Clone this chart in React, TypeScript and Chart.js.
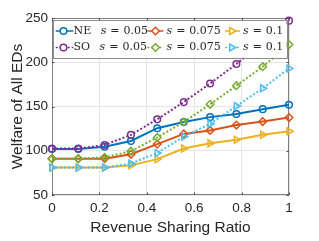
import React, { useEffect, useRef } from 'react';
import { Chart, registerables } from 'chart.js';
import { drawPoint } from 'chart.js/helpers';

Chart.register(...registerables);

// ---- data ----
const ratios = [0, 0.111, 0.222, 0.333, 0.444, 0.556, 0.667, 0.778, 0.889, 1];
const neS005 = [102, 102, 104.5, 111, 125.5, 132.5, 138, 141.5, 147, 152];
const neS0075 = [91, 91, 91, 96, 107.5, 119, 123, 129, 133, 137.5];
const neS01 = [81, 81, 81, 83.5, 90.5, 102.5, 108.5, 112.5, 118, 122];
const soS005 = [102.5, 102.5, 106.5, 118, 135.5, 155, 176, 198, 222, 247];
const soS0075 = [91, 91, 92.5, 99.5, 115, 132.5, 152.5, 173.5, 195, 220];
const soS01 = [81, 81, 81, 85.5, 97.5, 116, 130.5, 150.5, 170.5, 193];

const xTicks = [0, 0.2, 0.4, 0.6, 0.8, 1];
const yTicks = [50, 100, 150, 200, 250];

const legendPrefixes = ['NE', '', '', 'SO', '', ''];
const legendValues = ['0.05', '0.075', '0.1', '0.05', '0.075', '0.1'];
const xTitle = 'Revenue Sharing Ratio';
const yTitle = 'Welfare of All EDs';

// ---- styles ----
const colors = ['#0072BD', '#D95319', '#EDB120', '#7E2F8E', '#77AC30', '#4DBEEE'];
const markers = ['circle', 'rectRot', 'triangle', 'circle', 'rectRot', 'triangle'];
const axisGray = '#262626';

const seriesList = [neS005, neS0075, neS01, soS005, soS0075, soS01];

function markerOpts(i: number) {
  const style = markers[i];
  return {
    pointStyle: style,
    radius: style === 'triangle' ? 4 : style === 'rectRot' ? 3.8 : 3.3,
    rotation: style === 'triangle' ? 90 : 0,
    borderWidth: 1.5,
  };
}

const frameTicksPlugin = {
  id: 'frameTicks',
  beforeDatasetsDraw(chart: any) {
    const { ctx, chartArea: a } = chart;
    const xs = chart.scales.x;
    const ys = chart.scales.y;
    ctx.save();
    ctx.strokeStyle = '#808080';
    ctx.lineWidth = 1;
    ctx.setLineDash([]);
    ctx.strokeRect(Math.round(a.left) + 0.5, Math.round(a.top) + 0.5,
      Math.round(a.right - a.left) - 1, Math.round(a.bottom - a.top) - 1);
    ctx.strokeStyle = '#4a4a4a';
    const len = 2.5;
    ctx.beginPath();
    xTicks.forEach((v) => {
      const px = Math.round(xs.getPixelForValue(v)) + 0.5;
      ctx.moveTo(px, a.bottom); ctx.lineTo(px, a.bottom - len);
      ctx.moveTo(px, a.top); ctx.lineTo(px, a.top + len);
    });
    yTicks.forEach((v) => {
      const py = Math.round(ys.getPixelForValue(v)) + 0.5;
      ctx.moveTo(a.left, py); ctx.lineTo(a.left + len, py);
      ctx.moveTo(a.right, py); ctx.lineTo(a.right - len, py);
    });
    ctx.stroke();
    ctx.restore();
  },
};

const legendPlugin = {
  id: 'matlabLegend',
  afterDatasetsDraw(chart: any) {
    const { ctx, chartArea: a } = chart;
    const L = a.left;
    const T = a.top;
    const box = { x: L + 1, y: T + 2, w: 233.5, h: 37.5 };
    const rowY = [T + 13, T + 29.5];
    const lineStart = [3.7, 95.3, 173];
    const lineEnd = [21.3, 111.5, 188];
    const markX = [11.5, 103.5, 179.7];
    const textX = [21.5, 114.5, 191];
    ctx.save();
    ctx.fillStyle = '#ffffff';
    ctx.fillRect(box.x, box.y, box.w, box.h);
    ctx.strokeStyle = '#8c8c8c';
    ctx.lineWidth = 1;
    ctx.setLineDash([]);
    ctx.strokeRect(Math.round(box.x) + 0.5, Math.round(box.y) + 0.5, Math.round(box.w), Math.round(box.h));

    const roman = '11px "DejaVu Serif"';
    const italic = 'italic 11px "DejaVu Serif"';
    chart.data.datasets.forEach((ds: any, i: number) => {
      const row = Math.floor(i / 3);
      const col = i % 3;
      const y = rowY[row];
      ctx.strokeStyle = ds.borderColor;
      ctx.lineWidth = 1.5;
      ctx.setLineDash(ds.borderDash || []);
      ctx.beginPath();
      ctx.moveTo(L + lineStart[col], y);
      ctx.lineTo(L + lineEnd[col], y);
      ctx.stroke();
      ctx.setLineDash([]);
      ctx.fillStyle = '#ffffff';
      ctx.strokeStyle = ds.borderColor;
      ctx.lineWidth = 1.5;
      drawPoint(ctx, markerOpts(i) as any, L + markX[col], y);

      ctx.fillStyle = axisGray;
      ctx.textBaseline = 'middle';
      ctx.textAlign = 'left';
      let x = L + textX[col];
      const pre = legendPrefixes[i];
      if (pre) {
        ctx.font = roman;
        ctx.fillText(pre, x, y);
        x += ctx.measureText(pre).width + 9.5;
      }
      ctx.font = italic;
      ctx.fillText('s', x, y);
      x += ctx.measureText('s').width + 4;
      ctx.font = roman;
      ctx.fillText('=', x, y);
      x += ctx.measureText('=').width + 4;
      ctx.fillText(legendValues[i], x, y);
    });
    ctx.restore();
  },
};

export default function App() {
  const ref = useRef<HTMLCanvasElement | null>(null);
  useEffect(() => {
    document.body.style.margin = '0';
    if (!ref.current) return;
    const datasets = seriesList.map((vals, i) => {
      const m = markerOpts(i);
      return {
        label: (legendPrefixes[i] ? legendPrefixes[i] + ' ' : '') + 's = ' + legendValues[i],
        data: vals.map((v, k) => ({ x: ratios[k], y: v })),
        borderColor: colors[i],
        backgroundColor: 'rgba(255,255,255,0)',
        borderWidth: i < 3 ? 2 : 2,
        borderDash: i < 3 ? [] : [2, 2],
        pointStyle: m.pointStyle,
        pointRadius: m.radius,
        pointRotation: m.rotation,
        pointBorderWidth: m.borderWidth,
        pointBorderColor: colors[i],
        pointBackgroundColor: 'rgba(255,255,255,0)',
        tension: 0,
        clip: false as any,
        order: 6 - i,
      };
    });
    const tickFont = { family: '"Liberation Sans", Arial, sans-serif', size: 13.5 };
    const titleFont = { family: '"Liberation Sans", Arial, sans-serif', size: 15.5 };
    const chart = new Chart(ref.current, {
      type: 'line',
      data: { datasets },
      plugins: [frameTicksPlugin, legendPlugin],
      options: {
        animation: false,
        responsive: false,
        devicePixelRatio: 1,
        layout: { padding: { top: 18, right: 30, left: 0, bottom: 0 } },
        plugins: { legend: { display: false }, tooltip: { enabled: false } },
        scales: {
          x: {
            type: 'linear',
            min: 0,
            max: 1,
            afterBuildTicks: (s: any) => { s.ticks = xTicks.map((v) => ({ value: v })); },
            afterFit: (s: any) => { s.height = 46; },
            ticks: { font: tickFont, color: axisGray, padding: 5, maxRotation: 0, autoSkip: false,
              callback: (v: any) => String(v) },
            grid: { color: '#e6e6e6', drawTicks: false },
            border: { display: false },
            title: { display: true, text: xTitle, font: titleFont, color: axisGray, padding: { top: 0, bottom: 4.4 } },
          },
          y: {
            type: 'linear',
            min: 50,
            max: 250,
            afterBuildTicks: (s: any) => { s.ticks = yTicks.map((v) => ({ value: v })); },
            afterFit: (s: any) => { s.width = 52; },
            ticks: { font: tickFont, color: axisGray, padding: 4, autoSkip: false,
              callback: (v: any) => String(v) },
            grid: { color: '#e6e6e6', drawTicks: false },
            border: { display: false },
            title: { display: true, text: yTitle, font: titleFont, color: axisGray, padding: { top: 8.2, bottom: 0 } },
          },
        },
      },
    });
    return () => chart.destroy();
  }, []);
  return (
    <div style={{ width: 319, height: 241 }}>
      <canvas ref={ref} width={319} height={241} style={{ width: 319, height: 241, display: 'block' }} />
    </div>
  );
}
